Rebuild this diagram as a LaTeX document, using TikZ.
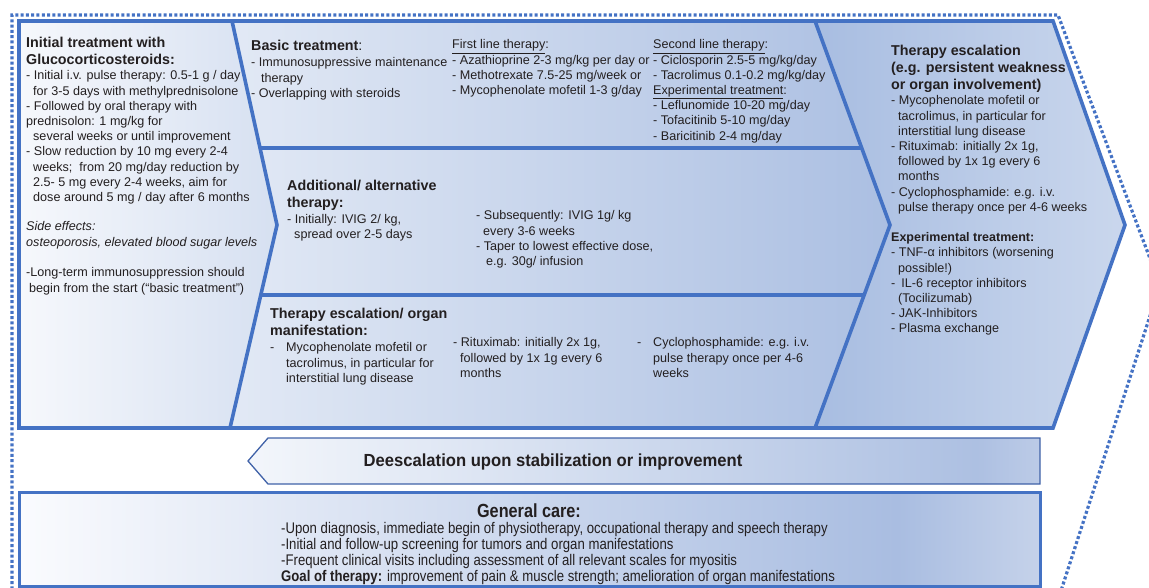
\documentclass[tikz,border=0pt]{standalone}
\usepackage{fontspec}
\setmainfont{Liberation Sans}
\newfontfamily\narrowfont[FakeStretch=0.855]{Liberation Sans}
\newfontfamily\semifont[FakeStretch=0.95]{Liberation Sans}
\usetikzlibrary{calc}
\definecolor{lineblue}{HTML}{4472C4}
\definecolor{arrline}{HTML}{4062A8}
\definecolor{txt}{HTML}{231F20}
\definecolor{lbL}{HTML}{F6F8FC}
\definecolor{lbR}{HTML}{D6E0F1}
\definecolor{mbL}{HTML}{E2E9F5}
\definecolor{mbR}{HTML}{ABBFE2}
\definecolor{rbL}{HTML}{A8BDE1}
\definecolor{rbR}{HTML}{CAD7ED}
\definecolor{deA}{HTML}{F3F6FB}
\definecolor{deB}{HTML}{ADC0E2}
\definecolor{deC}{HTML}{BCCBE7}
\definecolor{gcA}{HTML}{FAFBFE}
\definecolor{gcB}{HTML}{A9BDE1}
\definecolor{gcC}{HTML}{C5D2EA}
\pgfdeclarehorizontalshading{deescshade}{100bp}{color(0bp)=(deA); color(25bp)=(deA); color(71bp)=(deB); color(75bp)=(deC); color(100bp)=(deC)}
\pgfdeclarehorizontalshading{gcareshade}{100bp}{color(0bp)=(gcA); color(25bp)=(gcA); color(68bp)=(gcB); color(75bp)=(gcC); color(100bp)=(gcC)}
\tikzset{
  blueline/.style={draw=lineblue, line width=3.6pt, line join=miter},
  dotline/.style={draw=lineblue, line width=3.2pt, dash pattern=on 3pt off 2.3pt},
  body/.style={anchor=north west, inner sep=0pt, align=left, text=txt, font=\fontsize{12.6}{15.2}\selectfont},
  bodyit/.style={body, font=\itshape\fontsize{12.6}{15.2}\selectfont},
  head/.style={body, font=\bfseries\fontsize{14.3}{17.2}\selectfont},
  subhead/.style={body, font=\bfseries\fontsize{12.5}{15.2}\selectfont},
  deesc/.style={inner sep=0pt, text=txt, font=\semifont\bfseries\fontsize{17.5}{20}\selectfont},
  gctitle/.style={inner sep=0pt, text=txt, font=\narrowfont\bfseries\fontsize{19}{22}\selectfont},
  gcbody/.style={anchor=north west, inner sep=0pt, align=left, text=txt, font=\narrowfont\fontsize{15.4}{16.2}\selectfont}
}
\begin{document}
\begin{tikzpicture}[x=1pt,y=-1pt]
\useasboundingbox (0,0) rectangle (1149,588);
\clip (0,0) rectangle (1149,588);
% key coordinates
\coordinate (TL) at (19,21);
\coordinate (BL) at (19,428);
\coordinate (A1) at (232,21);
\coordinate (A2) at (277,225);
\coordinate (A3) at (230,428);
\coordinate (B1) at (815,21);
\coordinate (B2) at (890,225);
\coordinate (B3) at (815,428);
\coordinate (C1) at (1053,21);
\coordinate (C2) at (1125,225);
\coordinate (C3) at (1053,428);
% fills
\shade[left color=lbL, right color=lbR] (TL) -- (A1) -- (A2) -- (A3) -- (BL) -- cycle;
\shade[left color=mbL, right color=mbR] (A1) -- (B1) -- (B2) -- (B3) -- (A3) -- (A2) -- cycle;
\shade[left color=rbL, right color=rbR] (B1) -- (C1) -- (C2) -- (C3) -- (B3) -- (B2) -- cycle;
% outlines
\draw[blueline] (TL) -- (C1) -- (C2) -- (C3) -- (BL) -- cycle;
\draw[blueline] (A1) -- (A2) -- (A3);
\draw[blueline] (B1) -- (B2) -- (B3);
\draw[blueline] ($(A1)!0.6225!(A2)$) -- ($(B1)!0.6225!(B2)$);
\draw[blueline] ($(A2)!0.345!(A3)$) -- ($(B2)!0.345!(B3)$);
% dotted outer frame
\coordinate (D0) at (12,600);
\coordinate (D1) at (12,15);
\coordinate (D2) at (1058,15);
\coordinate (D3) at (1160,285);
\coordinate (D4) at (1058,600);
\draw[dotline] (D0) -- (D1) -- (D2) -- (D3) -- (D4);

% left box texts
\node[head] (lhead) at (26,37) {Initial treatment with\\Glucocorticosteroids:};
\node[body] (lbody) at (26,70.5) {- Initial i.v. pulse therapy: 0.5-1 g / day\\
\hspace*{7pt}for 3-5 days with methylprednisolone\\
- Followed by oral therapy with\\
prednisolon: 1 mg/kg for\\
\hspace*{7pt}several weeks or until improvement\\
- Slow reduction by 10 mg every 2-4\\
\hspace*{7pt}weeks;\ \ from 20 mg/day reduction by\\
\hspace*{7pt}2.5- 5 mg every 2-4 weeks, aim for\\
\hspace*{7pt}dose around 5 mg / day after 6 months};
\node[bodyit] (side) at (26,221.5) {Side effects:\\osteoporosis, elevated blood sugar levels};
\node[body] (longterm) at (26,267.5) {-Long-term immunosuppression should\\\hspace*{3pt}begin from the start (“basic treatment”)};

% basic treatment
\node[head] (bhead) at (251,40) {Basic treatment\mdseries:};
\node[body] (bbody) at (251,57.5) {- Immunosuppressive maintenance\\\hspace*{10pt}therapy\\- Overlapping with steroids};
\node[body] (first) at (452,39.5) {\underline{First line therapy}:\\- Azathioprine 2-3 mg/kg per day or\\- Methotrexate 7.5-25 mg/week or\\- Mycophenolate mofetil 1-3 g/day};
\node[body] (second) at (653,39.5) {\underline{Second line therapy}:\\- Ciclosporin 2.5-5 mg/kg/day\\- Tacrolimus 0.1-0.2 mg/kg/day\\\underline{Experimental treatment}:\\- Leflunomide 10-20 mg/day\\- Tofacitinib 5-10 mg/day\\- Baricitinib 2-4 mg/day};

% additional
\node[head] (ahead) at (287,180) {Additional/ alternative\\therapy:};
\node[body] (abody1) at (287,214) {- Initially: IVIG 2/ kg,\\\hspace*{7pt}spread over 2-5 days};
\node[body] (abody2) at (476,210.5) {- Subsequently: IVIG 1g/ kg\\\hspace*{7pt}every 3-6 weeks\\- Taper to lowest effective dose,\\\hspace*{10pt}e.g. 30g/ infusion};

% escalation / organ
\node[head] (thead) at (270,308) {Therapy escalation/ organ\\manifestation:};
\node[body] (tbody1) at (270,342.5) {\makebox[16pt][l]{-}Mycophenolate mofetil or\\\hspace*{16pt}tacrolimus, in particular for\\\hspace*{16pt}interstitial lung disease};
\node[body] (tbody2) at (453,337.5) {- Rituximab: initially 2x 1g,\\\hspace*{7pt}followed by 1x 1g every 6\\\hspace*{7pt}months};
\node[body] (tbody3) at (637,337.5) {\makebox[16pt][l]{-}Cyclophosphamide: e.g. i.v.\\\hspace*{16pt}pulse therapy once per 4-6\\\hspace*{16pt}weeks};

% right chevron
\node[head] (rhead) at (891,45) {Therapy escalation\\(e.g. persistent weakness\\or organ involvement)};
\node[body] (rbody1) at (891,95.5) {- Mycophenolate mofetil or\\\hspace*{7pt}tacrolimus, in particular for\\\hspace*{7pt}interstitial lung disease\\- Rituximab: initially 2x 1g,\\\hspace*{7pt}followed by 1x 1g every 6\\\hspace*{7pt}months\\- Cyclophosphamide: e.g. i.v.\\\hspace*{7pt}pulse therapy once per 4-6 weeks};
\node[subhead] (rexp) at (891,232.5) {Experimental treatment:};
\node[body] (rbody2) at (891,247.5) {- TNF-α inhibitors (worsening\\\hspace*{7pt}possible!)\\-\hspace*{6pt}IL-6 receptor inhibitors\\\hspace*{7pt}(Tocilizumab)\\- JAK-Inhibitors\\- Plasma exchange};

% deescalation arrow
\coordinate (E1) at (268,438);
\coordinate (E2) at (1040,438);
\coordinate (E3) at (1040,484);
\coordinate (E4) at (268,484);
\coordinate (E5) at (248,461);
\shadedraw[shading=deescshade, draw=arrline, line width=1.3pt] (E1) -- (E2) -- (E3) -- (E4) -- (E5) -- cycle;
\node[deesc] (deesctext) at (553,462) {Deescalation upon stabilization or improvement};

% general care
\coordinate (G1) at (19,492);
\coordinate (G2) at (1040,586);
\shadedraw[shading=gcareshade, draw=lineblue, line width=3pt] (G1) rectangle (G2);
\node[gctitle] (gctitle) at (529,511) {General care:};
\node[gcbody] (gcbody) at (281,522) {-Upon diagnosis, immediate begin of physiotherapy, occupational therapy and speech therapy\\
-Initial and follow-up screening for tumors and organ manifestations\\
-Frequent clinical visits including assessment of all relevant scales for myositis\\
\textbf{Goal of therapy:} improvement of pain \& muscle strength; amelioration of organ manifestations};
\end{tikzpicture}
\end{document}
